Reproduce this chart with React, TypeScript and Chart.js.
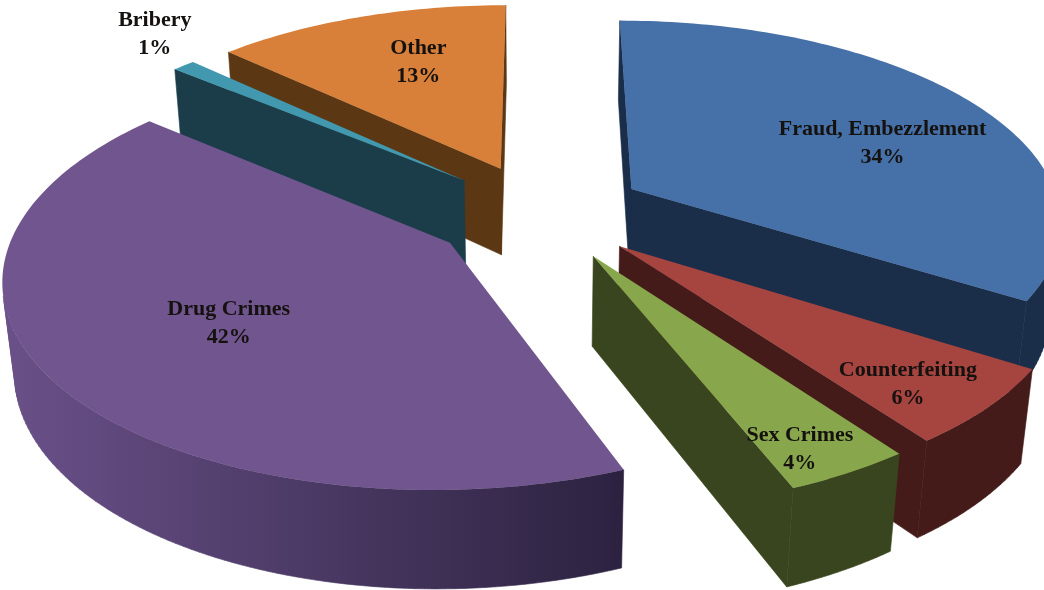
import React, { useEffect, useRef } from "react";
import { Chart, registerables } from "chart.js";

Chart.register(...registerables);

const categories = ["Fraud, Embezzlement", "Counterfeiting", "Sex Crimes", "Drug Crimes", "Bribery", "Other"];
const shares = [34, 6, 4, 42, 1, 13];

const topColors = ["#4670a8", "#a64440", "#88a64b", "#71558e", "#4198af", "#d8803a"];
const wallColors = ["#1a2e4a", "#441b19", "#39451e", "#2e2340", "#1a3d49", "#5c3714"];
const rimLeftColors = ["#1a2e4a", "#441b19", "#39451e", "#6a5189", "#1a3d49", "#5c3714"];
const rimRightColors = ["#1a2e4a", "#441b19", "#39451e", "#2c2240", "#1a3d49", "#5c3714"];
const explode = [105, 105, 105, 110, 105, 105];

// label anchor in the slice's polar frame: fraction of sweep, fraction of radius
const labelSweep = [0.56, 0.625, 0.667, 0.485, 1.61, 0.575];
const labelRadius = [0.67, 0.83, 0.885, 0.59, 1.215, 0.66];

const TILT = 0.465;
const PERSPECTIVE = 0.15;
const DEPTH = 90;
const CONVERGE = 0.00024;

type P = [number, number];

const pie3d = {
  id: "pie3d",
  beforeDatasetDraw() {
    return false;
  },
  afterDatasetsDraw(chart: any) {
    const ctx: CanvasRenderingContext2D = chart.ctx;
    const arcs = chart.getDatasetMeta(0).data as any[];
    const R = arcs[0].outerRadius;

    const project = (x0: number, y0: number, X: number, Y: number, h: number): P => {
      const Z = -Y;
      const w = 1 / (1 + (PERSPECTIVE * Z) / R + CONVERGE * h);
      return [x0 + X * w, y0 + (-TILT * Z + h) * w];
    };

    const order = arcs
      .map((arc, i) => {
        const mid = (arc.startAngle + arc.endAngle) / 2;
        return { arc, i, mid, depth: Math.sin(mid) };
      })
      .sort((a, b) => a.depth - b.depth);

    const signed = (q: P[]) => {
      let s = 0;
      q.forEach((p, k) => {
        const n = q[(k + 1) % q.length];
        s += p[0] * n[1] - n[0] * p[1];
      });
      return s;
    };
    const addQuad = (q: P[]) => {
      ctx.moveTo(q[0][0], q[0][1]);
      ctx.lineTo(q[1][0], q[1][1]);
      ctx.lineTo(q[2][0], q[2][1]);
      ctx.lineTo(q[3][0], q[3][1]);
      ctx.closePath();
    };

    order.forEach(({ arc, i, mid }) => {
      const offset = arc.options.offset;
      const ox = Math.cos(mid) * offset;
      const oy = Math.sin(mid) * offset;
      const steps = Math.max(4, Math.ceil((arc.endAngle - arc.startAngle) / 0.02));
      const outline: [number, number][] = [[ox, oy]];
      for (let k = 0; k <= steps; k++) {
        const a = arc.startAngle + ((arc.endAngle - arc.startAngle) * k) / steps;
        outline.push([ox + Math.cos(a) * R, oy + Math.sin(a) * R]);
      }
      const top = outline.map(([X, Y]) => project(arc.x, arc.y, X, Y, 0));
      const bottom = outline.map(([X, Y]) => project(arc.x, arc.y, X, Y, DEPTH));

      const xs = top.map((p) => p[0]);
      const rimFill = ctx.createLinearGradient(Math.min(...xs), 0, Math.max(...xs), 0);
      rimFill.addColorStop(0, rimLeftColors[i]);
      rimFill.addColorStop(1, rimRightColors[i]);

      const n = outline.length;
      // radial cut faces
      ctx.beginPath();
      [0, n - 1].forEach((k) => {
        const m = (k + 1) % n;
        const quad = [top[k], top[m], bottom[m], bottom[k]];
        if (signed(quad) < 0) addQuad(quad);
      });
      ctx.fillStyle = wallColors[i];
      ctx.strokeStyle = wallColors[i];
      ctx.lineWidth = 0.6;
      ctx.fill();
      ctx.stroke();
      // outer rim, one path so that no seams show
      ctx.beginPath();
      let drawn = false;
      for (let k = 1; k < n - 1; k++) {
        const quad = [top[k], top[k + 1], bottom[k + 1], bottom[k]];
        if (signed(quad) < 0) {
          addQuad(quad);
          drawn = true;
        }
      }
      if (drawn) {
        ctx.fillStyle = rimFill;
        ctx.strokeStyle = rimFill;
        ctx.lineWidth = 0.6;
        ctx.fill();
        ctx.stroke();
      }
      ctx.beginPath();
      top.forEach((p, k) => (k ? ctx.lineTo(p[0], p[1]) : ctx.moveTo(p[0], p[1])));
      ctx.closePath();
      ctx.fillStyle = arc.options.backgroundColor;
      ctx.fill();
    });

    ctx.fillStyle = "#14110f";
    ctx.textAlign = "center";
    ctx.textBaseline = "middle";
    ctx.font = "bold 22px 'Liberation Serif'";
    arcs.forEach((arc, i) => {
      const mid = (arc.startAngle + arc.endAngle) / 2;
      const a = arc.startAngle + (arc.endAngle - arc.startAngle) * labelSweep[i];
      const offset = arc.options.offset;
      const p = project(
        arc.x,
        arc.y,
        Math.cos(mid) * offset + Math.cos(a) * R * labelRadius[i],
        Math.sin(mid) * offset + Math.sin(a) * R * labelRadius[i],
        0
      );
      ctx.fillText(categories[i], p[0], p[1] - 14);
      ctx.fillText(shares[i] + "%", p[0], p[1] + 14);
    });
  },
};

export default function App() {
  const ref = useRef<HTMLCanvasElement>(null);
  useEffect(() => {
    const chart = new Chart(ref.current!, {
      type: "pie",
      data: {
        labels: categories,
        datasets: [{ data: shares, backgroundColor: topColors, borderWidth: 0, offset: explode }],
      },
      options: {
        animation: false,
        responsive: false,
        devicePixelRatio: 1,
        radius: 430,
        layout: { padding: { left: 38, bottom: 166 } },
        plugins: { legend: { display: false }, tooltip: { enabled: false } },
      } as any,
      plugins: [pie3d as any],
    });
    return () => chart.destroy();
  }, []);
  return (
    <canvas
      ref={ref}
      width={1044}
      height={590}
      style={{ position: "fixed", left: 0, top: 0, width: 1044, height: 590, background: "#fff" }}
    />
  );
}
